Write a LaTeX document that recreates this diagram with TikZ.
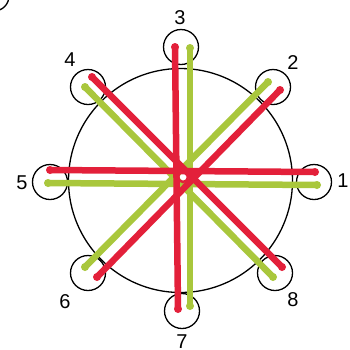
\documentclass[tikz,border=0pt]{standalone}
\usepackage{fontspec}
\setmainfont{Liberation Sans}
\begin{document}
\begin{tikzpicture}[x=1pt,y=-1pt,
  ring/.style={draw=black,line width=1.3pt},
  redbar/.style={draw=barred,line width=6.5pt,line cap=round},
  greenbar/.style={draw=bargreen,line width=6.5pt,line cap=round},
  lbl/.style={font=\fontsize{20}{20}\selectfont,inner sep=0pt}]
\definecolor{barred}{HTML}{E3203A}
\definecolor{bargreen}{HTML}{A9C73C}
\useasboundingbox (0,0) rectangle (350,349);
\fill[white] (0,0) rectangle (350,349);
% corner fragment
\begin{scope}
\clip (0,0) rectangle (20,20);
\draw[ring] (-6,-4) circle (15);
\end{scope}
% main circle
\node[ring,circle,minimum size=224pt,inner sep=0pt] (main) at (180.5,180.5) {};
% small rings
\node[ring,circle,minimum size=35pt,inner sep=0pt] (r1) at (314,182) {};
\node[ring,circle,minimum size=35pt,inner sep=0pt] (r2) at (273,87) {};
\node[ring,circle,minimum size=35pt,inner sep=0pt] (r3) at (181,47) {};
\node[ring,circle,minimum size=35pt,inner sep=0pt] (r4) at (88,87) {};
\node[ring,circle,minimum size=35pt,inner sep=0pt] (r5) at (50,182) {};
\node[ring,circle,minimum size=35pt,inner sep=0pt] (r6) at (88,273) {};
\node[ring,circle,minimum size=35pt,inner sep=0pt] (r7) at (182,311) {};
\node[ring,circle,minimum size=35pt,inner sep=0pt] (r8) at (275,273) {};
% labels
\node[lbl] (l1) at (343,181) {1};
\node[lbl] (l2) at (293,63) {2};
\node[lbl] (l3) at (180,18) {3};
\node[lbl] (l4) at (70,60) {4};
\node[lbl] (l5) at (22,183) {5};
\node[lbl] (l6) at (65,302) {6};
\node[lbl] (l7) at (182,342) {7};
\node[lbl] (l8) at (293,300) {8};
% end points
\coordinate (g1) at (317,185); \coordinate (g5) at (48,183);
\coordinate (g3) at (190,48); \coordinate (g7) at (190,306);
\coordinate (g4) at (85,87); \coordinate (g8) at (273,277);
\coordinate (g2) at (268,82); \coordinate (g6) at (85,267);
\coordinate (q1) at (315,172); \coordinate (q5) at (50,170);
\coordinate (q3) at (175,47); \coordinate (q7) at (178,309);
\coordinate (q4) at (92,77); \coordinate (q8) at (282,267);
\coordinate (q2) at (280,90); \coordinate (q6) at (97,277);
% green bars
\draw[greenbar] (g5) -- (g1);
\draw[greenbar] (g3) -- (g7);
\draw[greenbar] (g4) -- (g8);
\draw[greenbar] (g2) -- (g6);
\foreach \p in {g1,g2,g3,g4,g5,g6,g7,g8} \fill[bargreen] (\p) circle (4);
% red bars
\draw[redbar] (q5) -- (q1);
\draw[redbar] (q3) -- (q7);
\draw[redbar] (q4) -- (q8);
\draw[redbar] (q2) -- (q6);
\foreach \p in {q1,q2,q3,q4,q5,q6,q7,q8} \fill[barred] (\p) circle (4);
\draw[barred,line width=2.5pt] (183,177) circle (5);
\end{tikzpicture}
\end{document}
